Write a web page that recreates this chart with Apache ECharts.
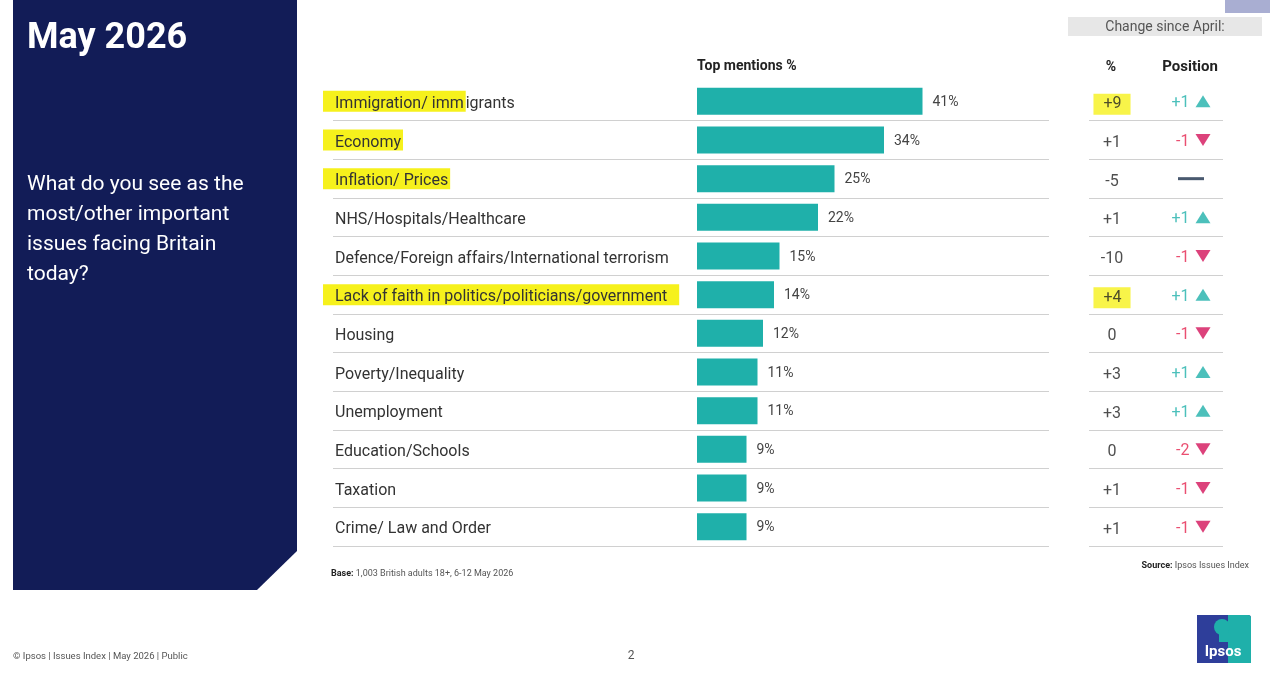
<!DOCTYPE html>
<html><head><meta charset="utf-8">
<script src="https://cdn.jsdelivr.net/npm/echarts@6/dist/echarts.min.js"></script>
<style>html,body{margin:0;padding:0;background:#fff}#c{width:1270px;height:676px}</style>
</head><body><div id="c"></div>
<script>
const categories = ['Immigration/ immigrants','Economy','Inflation/ Prices','NHS/Hospitals/Healthcare','Defence/Foreign affairs/International terrorism','Lack of faith in politics/politicians/government','Housing','Poverty/Inequality','Unemployment','Education/Schools','Taxation','Crime/ Law and Order'];
const topMentions = [41,34,25,22,15,14,12,11,11,9,9,9];
const pctChange = [9,1,-5,1,-10,4,0,3,3,0,1,1];
const positionChange = [1,-1,0,1,-1,1,-1,1,1,-2,-1,-1];
const labelHighlights = [[0,'Immigration/ imm'],[1,'Economy'],[2,'Inflation/ Prices'],[5,'Lack of faith in politics/politicians/government']];
const changeHighlights = [0,5];

const FONT = 'Roboto';
const TEAL = '#1fb0aa', RED = '#e5234d', CRIMSON = '#d3135a', NAVY = '#121c57', YEL = '#f6f11c';
const sign = v => v > 0 ? '+' + v : String(v);

function labelFmt(value, idx) {
  const h = labelHighlights.find(x => categories[x[0]] === value);
  if (!h) return '{n0|' + value + '}';
  const rest = value.slice(h[1].length);
  const style = h[1].length > 30 ? 'hlw' : 'hl';
  return '{' + style + '|' + h[1] + '}' + (rest ? '{n|' + rest + '}' : '');
}

const chart = echarts.init(document.getElementById('c'), null, {renderer:'canvas'});
const ROWTOP = 82, ROWH = 464;
const splitY = (grid) => ({
  type:'category', gridIndex:grid, data:categories, inverse:true,
  axisLine:{show:false}, axisTick:{show:false}, axisLabel:{show:false},
  splitLine:{show:true, showMinLine:false, lineStyle:{color:'#d0d0d0', width:1}}
});
const lbl = (extra) => Object.assign({fontSize:16, color:'#333', fontFamily:FONT, lineHeight:16}, extra);

chart.setOption({
  animation:false,
  textStyle:{fontFamily:FONT},
  grid:[
    {left:697, top:ROWTOP, width:352, height:ROWH},
    {left:333, top:ROWTOP, width:716, height:ROWH},
    {left:1089, top:ROWTOP, width:134, height:ROWH}
  ],
  xAxis:[
    {type:'value', gridIndex:0, min:0, max:64, show:false},
    {type:'value', gridIndex:1, min:0, max:1, show:false},
    {type:'value', gridIndex:2, min:0, max:134, show:false}
  ],
  yAxis:[
    {type:'category', gridIndex:0, data:categories, inverse:true,
     axisLine:{show:false}, axisTick:{show:false}, splitLine:{show:false},
     axisLabel:{align:'left', margin:374, formatter:labelFmt,
       rich:{
         n0:lbl({padding:[5,0,0,12]}),
         n:lbl({padding:[5,0,0,0]}),
         hl:lbl({backgroundColor:YEL, padding:[5,2,0,12]}),
         hlw:lbl({backgroundColor:YEL, padding:[5,12,0,12]})
       }}},
    splitY(1),
    splitY(2)
  ],
  series:[
    {type:'bar', xAxisIndex:0, yAxisIndex:0, data:topMentions, barWidth:27,
     itemStyle:{color:TEAL},
     label:{show:true, position:'right', distance:10, formatter:'{c}%', fontSize:14, color:'#444', fontFamily:FONT, offset:[0,1]}},
    {type:'scatter', xAxisIndex:2, yAxisIndex:2, symbolSize:1, itemStyle:{color:'rgba(0,0,0,0)'},
     data: pctChange.map((v,i) => ({
       value:[23, categories[i]],
       label:{show:true, position:'inside', offset:[0,3], formatter: sign(v), fontSize:16, color:'#222', fontFamily:FONT,
         backgroundColor: changeHighlights.includes(i) ? YEL : 'transparent',
         padding: changeHighlights.includes(i) ? [3,9,2,10] : 0}
     }))},
    {type:'scatter', xAxisIndex:2, yAxisIndex:2,
     data: positionChange.map((p,i) => p === 0 ? ({
       value:[102, categories[i]], symbol:'rect', symbolSize:[26,3], itemStyle:{color:'#1b2f4b'}, label:{show:false}
     }) : ({
       value:[114, categories[i]], symbol:'triangle', symbolSize:[15,12], symbolRotate: p < 0 ? 180 : 0,
       itemStyle:{color: p > 0 ? TEAL : CRIMSON},
       label:{show:true, position:'left', distance:6, offset:[0,2], formatter: sign(p), fontSize:16, color: p > 0 ? TEAL : RED, fontFamily:FONT}
     }))}
  ],
  graphic:[
    {type:'polygon', shape:{points:[[13,0],[297,0],[297,551],[257,590],[13,590]]}, style:{fill:NAVY}, z:-1},
    {type:'text', x:27, y:39, style:{text:'May 2026', fill:'#fff', font:'bold 36px ' + FONT, verticalAlign:'middle'}},
    {type:'text', x:27, y:185, style:{text:'What do you see as the', fill:'#fff', font:'21px ' + FONT, verticalAlign:'middle'}},
    {type:'text', x:27, y:215, style:{text:'most/other important', fill:'#fff', font:'21px ' + FONT, verticalAlign:'middle'}},
    {type:'text', x:27, y:245, style:{text:'issues facing Britain', fill:'#fff', font:'21px ' + FONT, verticalAlign:'middle'}},
    {type:'text', x:27, y:275, style:{text:'today?', fill:'#fff', font:'21px ' + FONT, verticalAlign:'middle'}},
    {type:'rect', shape:{x:1225, y:0, width:45, height:13}, style:{fill:'#a9aed2'}},
    {type:'rect', shape:{x:1068, y:17, width:194, height:19}, style:{fill:'#e7e7e7'}},
    {type:'text', x:1165, y:27, style:{text:'Change since April:', fill:'#555', font:'14px ' + FONT, align:'center', verticalAlign:'middle'}},
    {type:'text', x:697, y:66, style:{text:'Top mentions %', fill:'#222', font:'bold 14px ' + FONT, verticalAlign:'middle'}},
    {type:'text', x:1111, y:67, style:{text:'%', fill:'#222', font:'bold 14px ' + FONT, align:'center', verticalAlign:'middle'}},
    {type:'text', x:1190, y:67, style:{text:'Position', fill:'#222', font:'bold 15px ' + FONT, align:'center', verticalAlign:'middle'}},
    {type:'text', x:331, y:574, style:{text:'{b|Base:} 1,003 British adults 18+, 6-12 May 2026', verticalAlign:'middle',
       rich:{b:{font:'bold 9px ' + FONT, fill:'#222'}}, font:'9px ' + FONT, fill:'#555'}},
    {type:'text', x:1249, y:566, style:{text:'{b|Source:} Ipsos Issues Index', align:'right', verticalAlign:'middle',
       rich:{b:{font:'bold 9px ' + FONT, fill:'#222'}}, font:'9px ' + FONT, fill:'#555'}},
    {type:'text', x:13, y:657, style:{text:'© Ipsos | Issues Index | May 2026 | Public', fill:'#555', font:'9.5px ' + FONT, verticalAlign:'middle'}},
    {type:'text', x:631, y:656, style:{text:'2', fill:'#555', font:'12px ' + FONT, align:'center', verticalAlign:'middle'}},
    {type:'rect', shape:{x:1197, y:615, width:54, height:48, r:[0,3,0,0]}, style:{fill:'#2e3e9a'}},
    {type:'rect', shape:{x:1228, y:615, width:23, height:48, r:[0,3,0,0]}, style:{fill:TEAL}},
    {type:'circle', shape:{cx:1222, cy:627, r:8}, style:{fill:TEAL}},
    {type:'rect', shape:{x:1219, y:630, width:9, height:12}, style:{fill:TEAL}},
    {type:'text', x:1223, y:652, style:{text:'Ipsos', fill:'#fff', font:'bold 15px ' + FONT, align:'center', verticalAlign:'middle'}}
  ]
});
</script></body></html>
